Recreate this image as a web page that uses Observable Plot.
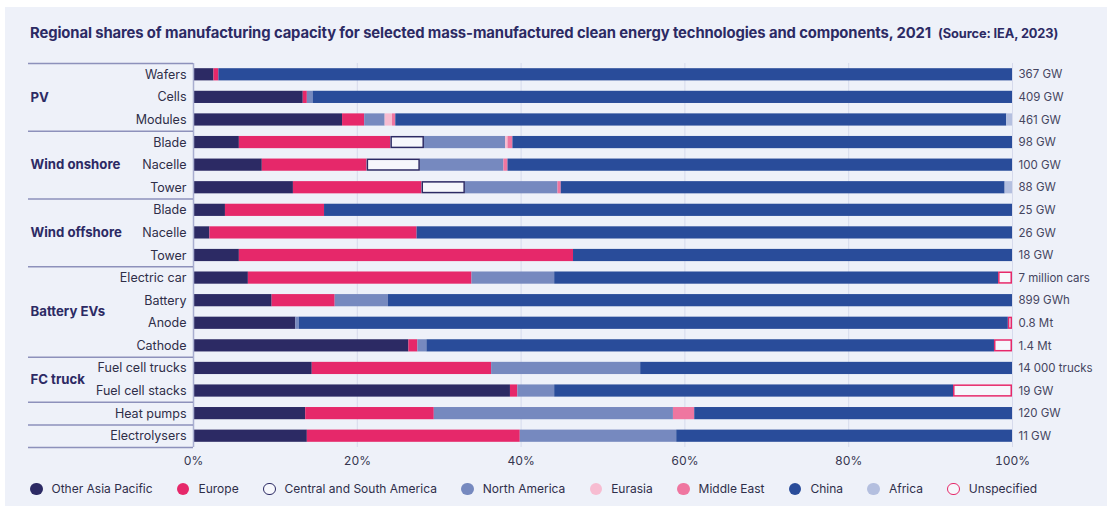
<!DOCTYPE html>
<html>
<head>
<meta charset="utf-8">
<script src="https://cdn.jsdelivr.net/npm/d3@7"></script>
<script src="https://cdn.jsdelivr.net/npm/@observablehq/plot@0.6"></script>
<style>
  html, body { margin: 0; padding: 0; background: #ffffff; }
  body { width: 1107px; height: 506px; position: relative; overflow: hidden; font-family: "Inter", "Noto Sans", sans-serif; }
  #panel { position: absolute; left: 5px; top: 7px; right: 0; bottom: 0; background: #eef1f9; }
  #title { position: absolute; left: 30px; top: 23px; white-space: nowrap; color: #2c2a64; font-weight: 700; font-size: 14.8px; line-height: 20px; letter-spacing: -0.1px; }
  #title .src { font-size: 12.8px; margin-left: 7px; }
  #chart { position: absolute; left: 0; top: 55px; }
  #legend { position: absolute; left: 30px; top: 480px; display: flex; align-items: center; white-space: nowrap; font-size: 12px; color: #2e2e4a; line-height: 18px; }
  #legend .item { display: flex; align-items: center; margin-right: 24.4px; }
  #legend .sw { width: 12.5px; height: 12.5px; border-radius: 50%; box-sizing: border-box; margin-right: 9px; }
</style>
</head>
<body>
<div id="panel"></div>
<div id="title">Regional shares of manufacturing capacity for selected mass-manufactured clean energy technologies and components, 2021<span class="src">(Source: IEA, 2023)</span></div>
<div id="chart"></div>
<div id="legend"></div>
<script>
// ---- data ----
const categories = ["Wafers", "Cells", "Modules", "Blade", "Nacelle", "Tower", "Blade", "Nacelle", "Tower",
  "Electric car", "Battery", "Anode", "Cathode", "Fuel cell trucks", "Fuel cell stacks", "Heat pumps", "Electrolysers"];
const groupOf = ["PV", "PV", "PV", "Wind onshore", "Wind onshore", "Wind onshore", "Wind offshore", "Wind offshore", "Wind offshore",
  "Battery EVs", "Battery EVs", "Battery EVs", "Battery EVs", "FC truck", "FC truck", "Heat pumps", "Electrolysers"];
const labelledGroups = ["PV", "Wind onshore", "Wind offshore", "Battery EVs", "FC truck"];
const totals = ["367 GW", "409 GW", "461 GW", "98 GW", "100 GW", "88 GW", "25 GW", "26 GW", "18 GW",
  "7 million cars", "899 GWh", "0.8 Mt", "1.4 Mt", "14 000 trucks", "19 GW", "120 GW", "11 GW"];

const seriesNames = ["Other Asia Pacific", "Europe", "Central and South America", "North America", "Eurasia", "Middle East", "China", "Africa", "Unspecified"];
// shares in %, one value per category
const otherAsiaPacific = [2.5, 13.4, 18.2, 5.6, 8.4, 12.2, 3.9, 2.0, 5.6, 6.7, 9.6, 12.5, 26.3, 14.5, 38.7, 13.7, 13.9];
const europe           = [0.6, 0.5, 2.7, 18.5, 12.8, 15.7, 12.1, 25.3, 40.8, 27.3, 7.7, 0, 1.1, 21.9, 0.9, 15.7, 26.0];
const centralSouthAm   = [0, 0, 0, 4.1, 6.5, 5.3, 0, 0, 0, 0, 0, 0, 0, 0, 0, 0, 0];
const northAmerica     = [0, 0.7, 2.5, 9.9, 10.2, 11.3, 0, 0, 0, 10.1, 6.5, 0.4, 1.1, 18.2, 4.5, 29.2, 19.1];
const eurasia          = [0, 0, 0.9, 0.3, 0, 0, 0, 0, 0, 0, 0, 0, 0, 0, 0, 0, 0];
const middleEast       = [0, 0, 0.4, 0.6, 0.5, 0.4, 0, 0, 0, 0, 0, 0, 0, 0, 0, 2.6, 0];
const china            = [96.9, 85.4, 74.6, 61.0, 61.6, 54.2, 84.0, 72.7, 53.6, 54.2, 76.2, 86.6, 69.3, 45.4, 48.7, 38.8, 41.0];
const africa           = [0, 0, 0.7, 0, 0, 0.9, 0, 0, 0, 0, 0, 0, 0, 0, 0, 0, 0];
const unspecified      = [0, 0, 0, 0, 0, 0, 0, 0, 0, 1.7, 0, 0.5, 2.2, 0, 7.2, 0, 0];
const seriesValues = [otherAsiaPacific, europe, centralSouthAm, northAmerica, eurasia, middleEast, china, africa, unspecified];
const xTicks = [0, 20, 40, 60, 80, 100];

// ---- styles ----
const boxFill = "#f6f7fc";
const seriesFill = ["#2c2a64", "#e6286a", boxFill, "#7689bf", "#f7bcd1", "#ef76a0", "#294c9a", "#b4bfdf", boxFill];
const outlined = {"Central and South America": "#2c2a64", "Unspecified": "#e6286a"};
const legendFill = ["#2c2a64", "#e6286a", null, "#7689bf", "#f7bcd1", "#ef76a0", "#294c9a", "#b4bfdf", null];

// ---- build table ----
const keys = categories.map((c, i) => groupOf[i] + "|" + c);
const rows = [];
keys.forEach((k, i) => {
  seriesNames.forEach((s, j) => {
    const v = seriesValues[j][i];
    if (v > 0) rows.push({key: k, series: s, value: v});
  });
});
const rowInfo = keys.map((k, i) => ({key: k, total: totals[i]}));

const W = 1107, H = 420, MT = 8, MB = 28, ML = 193, MR = 95;
const PAD = 0.46;
const step = (H - MT - MB) / keys.length;
// band range extended so that each row occupies exactly one step inside the frame
const yRange = [MT - step * PAD / 2, H - MB + step * PAD / 2];

const groupStarts = keys.filter((k, i) => i === 0 || groupOf[i] !== groupOf[i - 1]);
const groupLabelMarks = labelledGroups.map(g => {
  const idx = groupOf.map((x, i) => x === g ? i : -1).filter(i => i >= 0);
  return Plot.text([g], {
    y: () => keys[idx[0]], text: d => d, frameAnchor: "left", dx: -163, dy: (idx.length - 1) / 2 * step,
    textAnchor: "start", fontWeight: "bold", fontSize: 13.2, fill: "#2c2a64"
  });
});

const outlineMarks = Object.entries(outlined).map(([s, col]) =>
  Plot.barX(rows, Plot.filter(d => d.series === s, Plot.stackX({
    x: "value", y: "key", fill: "none", stroke: col, strokeWidth: 1.5, inset: 0.75
  })))
);

const plot = Plot.plot({
  width: W, height: H,
  marginTop: MT, marginBottom: MB, marginLeft: ML, marginRight: MR,
  style: {background: "none", overflow: "visible", fontFamily: "Inter, 'Noto Sans', sans-serif", color: "#35354f"},
  x: {domain: [0, 100], axis: null},
  y: {domain: keys, padding: PAD, range: yRange, round: false, axis: null},
  color: {domain: seriesNames, range: seriesFill},
  marks: [
    Plot.ruleX(xTicks.filter(t => t > 0), {stroke: "#d6daec", strokeWidth: 1}),
    Plot.barX(rows, Plot.stackX({x: "value", y: "key", fill: "series"})),
    ...outlineMarks,
    Plot.ruleX([0], {stroke: "#a9aed0", strokeWidth: 1.5}),
    Plot.ruleY(groupStarts, {y: d => d, dy: -step / 2, insetLeft: -165, insetRight: W - ML - MR, stroke: "#8d91bb", strokeWidth: 1.5}),
    Plot.ruleY([keys[keys.length - 1]], {y: d => d, dy: step / 2, insetLeft: -165, insetRight: W - ML - MR, stroke: "#8d91bb", strokeWidth: 1.5}),
    Plot.axisY({tickSize: 0, tickPadding: 7, tickFormat: k => k.split("|")[1], fontSize: 12.5, label: null, color: "#2e2e48"}),
    Plot.axisX({ticks: xTicks, tickSize: 0, tickPadding: 9, tickFormat: d => d + "%", fontSize: 12, label: null, color: "#35354f"}),
    Plot.text(rowInfo, {y: "key", text: "total", frameAnchor: "right", dx: 6, textAnchor: "start", fontSize: 11.5, fill: "#45455f"}),
    ...groupLabelMarks
  ]
});
document.getElementById("chart").appendChild(plot);

// legend
const legend = document.getElementById("legend");
seriesNames.forEach((s, j) => {
  const item = document.createElement("div");
  item.className = "item";
  const sw = document.createElement("span");
  sw.className = "sw";
  if (legendFill[j]) sw.style.background = legendFill[j];
  else { sw.style.border = "1.6px solid " + outlined[s]; sw.style.background = boxFill; }
  const t = document.createElement("span");
  t.textContent = s;
  item.appendChild(sw); item.appendChild(t);
  legend.appendChild(item);
});
</script>
</body>
</html>
